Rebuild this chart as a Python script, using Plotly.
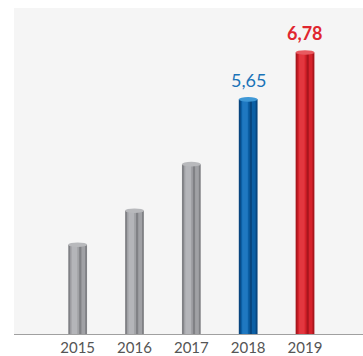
import plotly.graph_objects as go

years = ["2015", "2016", "2017", "2018", "2019"]
values = [2.15, 2.97, 4.09, 5.65, 6.78]
labels = ["", "", "", "5,65", "6,78"]

base_cols = ["#808185", "#808185", "#808185", "#08457e", "#a8161d"]
main_cols = ["#a0a1a5", "#a0a1a5", "#a0a1a5", "#0b5fa5", "#d6222b"]
light_cols = ["#b4b5b9", "#b4b5b9", "#b4b5b9", "#1f78c1", "#e3373f"]
cap_cols = ["#b8b9bc", "#b8b9bc", "#b8b9bc", "#3f98d6", "#e85a60"]
label_cols = ["#1a73b8", "#1a73b8", "#1a73b8", "#1a73b8", "#e0262f"]

x = list(range(len(years)))
W = 0.33

fig = go.Figure()
fig.add_trace(go.Bar(x=x, y=values, width=W, marker=dict(color=base_cols, line_width=0), hoverinfo="skip"))
fig.add_trace(go.Bar(x=x, y=values, width=W * 0.8, marker=dict(color=main_cols, line_width=0), hoverinfo="skip"))
fig.add_trace(go.Bar(x=x, y=values, width=W * 0.3, offset=-W * 0.32,
                     marker=dict(color=light_cols, line_width=0), hoverinfo="skip"))
fig.add_trace(go.Bar(x=x, y=values, width=W * 0.12, offset=W * 0.08,
                     marker=dict(color=base_cols, line_width=0), hoverinfo="skip"))

cap_h = 0.055
for i, v in enumerate(values):
    fig.add_shape(type="circle", xref="x", yref="y",
                  x0=i - W / 2, x1=i + W / 2, y0=v - cap_h, y1=v + cap_h,
                  fillcolor=cap_cols[i], line=dict(width=0), layer="above")
    if labels[i]:
        fig.add_annotation(x=i, y=v, text=labels[i], showarrow=False, yanchor="bottom", yshift=6,
                           font=dict(family="Lato", size=18, color=label_cols[i],
                                     weight="bold" if i == 4 else "normal"))

fig.update_layout(
    width=363, height=356,
    margin=dict(l=14, r=0, t=8, b=20),
    barmode="overlay",
    showlegend=False,
    paper_bgcolor="white",
    plot_bgcolor="#f5f5f5",
    xaxis=dict(range=[-1.12, 5.02], tickvals=x, ticktext=years, showgrid=False, zeroline=False,
               showline=True, linecolor="#a0a0a0", linewidth=1, ticks="",
               tickfont=dict(family="Lato", size=15, color="#555555")),
    yaxis=dict(range=[0, 7.85], showgrid=False, zeroline=False, showticklabels=False, ticks=""),
)

fig.write_html("out.html")
